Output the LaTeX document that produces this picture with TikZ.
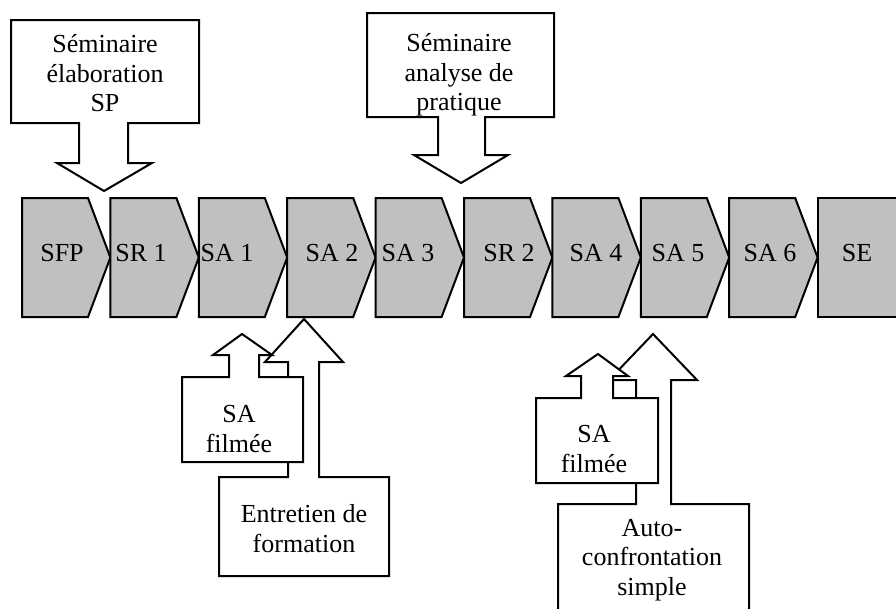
\documentclass[tikz,border=0pt]{standalone}
\usepackage{fontspec}
\setmainfont{Liberation Serif}
\begin{document}
\begin{tikzpicture}[x=1pt,y=-1pt,line width=2pt,line join=miter,
  stage/.style={draw=black,fill=stagegray},
  callout/.style={draw=black,fill=white},
  lbl/.style={inner sep=0pt,align=center,font=\fontsize{26}{29.5}\selectfont},
  stagelbl/.style={inner sep=0pt,anchor=base,font=\fontsize{26}{29.5}\selectfont}]
\definecolor{stagegray}{RGB}{192,192,192}
\useasboundingbox (0,0) rectangle (896,608);
% chain of stages
\foreach \i in {0,...,8}{
  \pgfmathsetmacro{\L}{22+88.4*\i}
  \draw[stage] (\L,198) -- ({\L+66},198) -- ({\L+88.4},257.5) -- ({\L+66},317) -- (\L,317) -- cycle;
}
\draw[stage] (817.6,198) -- (902,198) -- (902,317) -- (817.6,317) -- cycle;
\node[stagelbl] (sfp) at (62,261) {SFP};
\node[stagelbl] (sr1) at (141,261) {SR 1};
\node[stagelbl] (sa1) at (227,261) {SA 1};
\node[stagelbl] (sa2) at (332,261) {SA 2};
\node[stagelbl] (sa3) at (408,261) {SA 3};
\node[stagelbl] (sr2) at (509,261) {SR 2};
\node[stagelbl] (sa4) at (596,261) {SA 4};
\node[stagelbl] (sa5) at (678,261) {SA 5};
\node[stagelbl] (sa6) at (770,261) {SA 6};
\node[stagelbl] (se) at (857,261) {SE};
% top callouts
\draw[callout] (11,20) -- (199,20) -- (199,123) -- (128,123) -- (128,163) -- (152,163) -- (104,191) -- (57,163) -- (79,163) -- (79,123) -- (11,123) -- cycle;
\draw[callout] (367,13) -- (554,13) -- (554,117) -- (485,117) -- (485,155) -- (508,155) -- (461,183) -- (414,155) -- (438,155) -- (438,117) -- (367,117) -- cycle;
\node[lbl] (semsp) at (105,73.5) {Séminaire\\élaboration\\SP};
\node[lbl] (semap) at (459,75) {Séminaire\\analyse de\\pratique};
% bottom callouts, first pair
\draw[callout] (219,576) -- (219,477) -- (288,477) -- (288,362) -- (265,362) -- (304,319) -- (343,362) -- (319,362) -- (319,477) -- (389,477) -- (389,576) -- cycle;
\draw[callout] (182,462) -- (182,377) -- (229,377) -- (229,355) -- (213,355) -- (242,334) -- (272,355) -- (259,355) -- (259,377) -- (303,377) -- (303,462) -- cycle;
\node[lbl] (film1) at (239,429) {SA\\filmée};
\node[lbl] (entr) at (304,528.5) {Entretien de\\formation};
% bottom callouts, second pair
\draw[callout] (558,615) -- (558,504) -- (636,504) -- (636,380) -- (609,380) -- (653,334) -- (697,380) -- (671,380) -- (671,504) -- (749,504) -- (749,615) -- cycle;
\draw[callout] (536,483) -- (536,398) -- (581,398) -- (581,376) -- (566,376) -- (598,354) -- (628,376) -- (613,376) -- (613,398) -- (658,398) -- (658,483) -- cycle;
\node[lbl] (film2) at (594,449) {SA\\filmée};
\node[lbl] (auto) at (652,560) {Auto-\\confrontation\\simple};
\end{tikzpicture}
\end{document}
